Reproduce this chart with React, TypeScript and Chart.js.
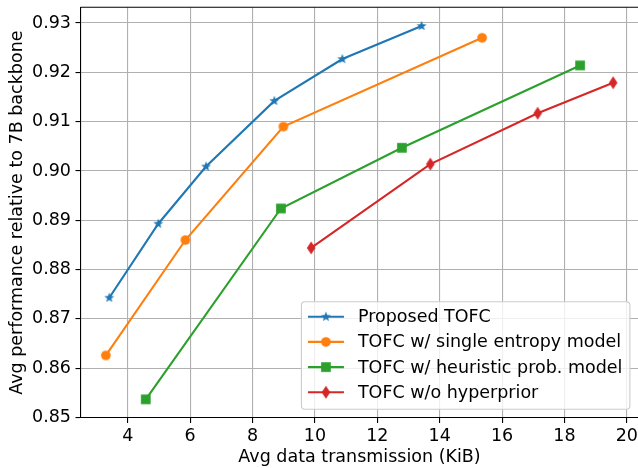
import React, { useEffect, useRef } from "react";
import { Chart, registerables } from "chart.js";

Chart.register(...registerables);

const FONT_FAMILY = "'DejaVu Sans', sans-serif";
const FONT_SIZE = 17.5;

// Series: average data transmission (KiB) vs. relative performance
const proposedX = [3.41, 4.98, 6.51, 8.7, 10.88, 13.42];
const proposedY = [0.8743, 0.8893, 0.9009, 0.9142, 0.9227, 0.9294];

const singleEntropyX = [3.3, 5.85, 8.99, 15.36];
const singleEntropyY = [0.8626, 0.886, 0.909, 0.927];

const heuristicX = [4.58, 8.91, 12.79, 18.5];
const heuristicY = [0.8537, 0.8924, 0.9047, 0.9214];

const noHyperpriorX = [9.88, 13.7, 17.14, 19.56];
const noHyperpriorY = [0.8844, 0.9014, 0.9117, 0.9179];

const seriesLabels = [
  "Proposed TOFC",
  "TOFC w/ single entropy model",
  "TOFC w/ heuristic prob. model",
  "TOFC w/o hyperprior",
];
const seriesColors = ["#1f77b4", "#ff7f0e", "#2ca02c", "#d62728"];
const seriesMarkers = ["star", "circle", "square", "thinDiamond"];

const xTicks = [4, 6, 8, 10, 12, 14, 16, 18, 20];
const yTicks = [0.85, 0.86, 0.87, 0.88, 0.89, 0.9, 0.91, 0.92, 0.93];

const xTitle = "Avg data transmission (KiB)";
const yTitle = "Avg performance relative to 7B backbone";

// 5% margin around the data, like matplotlib's autoscale
function paddedRange(values: number[]): [number, number] {
  const lo = Math.min(...values);
  const hi = Math.max(...values);
  const m = (hi - lo) * 0.05;
  return [lo - m, hi + m];
}

function makeMarker(kind: string, color: string): HTMLCanvasElement {
  const c = document.createElement("canvas");
  c.width = 18;
  c.height = 18;
  const g = c.getContext("2d")!;
  g.fillStyle = color;
  g.translate(9, 9);
  g.beginPath();
  if (kind === "circle") {
    g.arc(0, 0, 4.85, 0, Math.PI * 2);
  } else if (kind === "square") {
    g.rect(-4.85, -4.85, 9.7, 9.7);
  } else if (kind === "thinDiamond") {
    g.moveTo(0, -6.6);
    g.lineTo(4.25, 0);
    g.lineTo(0, 6.6);
    g.lineTo(-4.25, 0);
    g.closePath();
  } else {
    for (let i = 0; i < 10; i++) {
      const r = i % 2 === 0 ? 5.2 : 2.2;
      const a = -Math.PI / 2 + (i * Math.PI) / 5;
      const px = r * Math.cos(a);
      const py = r * Math.sin(a);
      if (i === 0) g.moveTo(px, py);
      else g.lineTo(px, py);
    }
    g.closePath();
  }
  g.fill();
  return c;
}

// Top spine (left and bottom come from the axes' borders)
const framePlugin = {
  id: "axesFrame",
  afterDatasetsDraw(chart: any) {
    const { ctx, chartArea } = chart;
    ctx.save();
    ctx.strokeStyle = "#000";
    ctx.lineWidth = 1.1;
    ctx.beginPath();
    ctx.moveTo(chartArea.left, chartArea.top);
    ctx.lineTo(chartArea.right + 2, chartArea.top);
    ctx.stroke();
    ctx.restore();
  },
};

const legendPlugin = {
  id: "boxedLegend",
  afterDraw(chart: any) {
    const { ctx, chartArea } = chart;
    const datasets = chart.data.datasets;
    ctx.save();
    ctx.font = `${FONT_SIZE}px ${FONT_FAMILY}`;
    const pad = 6.5;
    const handle = 36;
    const gap = 14;
    const rowH = 25.2;
    const widths = datasets.map((d: any) => ctx.measureText(d.label).width);
    const w = pad + handle + gap + Math.max(...widths) + 7.5;
    const h = 107.6;
    const right = chartArea.right - 8.6;
    const bottom = chartArea.bottom - 8.7;
    const left = right - w;
    const top = bottom - h;

    const r = 3.5;
    ctx.beginPath();
    ctx.moveTo(left + r, top);
    ctx.lineTo(right - r, top);
    ctx.arcTo(right, top, right, top + r, r);
    ctx.lineTo(right, bottom - r);
    ctx.arcTo(right, bottom, right - r, bottom, r);
    ctx.lineTo(left + r, bottom);
    ctx.arcTo(left, bottom, left, bottom - r, r);
    ctx.lineTo(left, top + r);
    ctx.arcTo(left, top, left + r, top, r);
    ctx.closePath();
    ctx.fillStyle = "rgba(255,255,255,0.8)";
    ctx.fill();
    ctx.strokeStyle = "#cccccc";
    ctx.lineWidth = 1.1;
    ctx.stroke();

    datasets.forEach((d: any, i: number) => {
      const y = top + 15 + i * rowH;
      const x0 = left + pad;
      ctx.beginPath();
      ctx.moveTo(x0, y);
      ctx.lineTo(x0 + handle, y);
      ctx.strokeStyle = d.borderColor;
      ctx.lineWidth = 2.1;
      ctx.stroke();
      const img = d.pointStyle as HTMLCanvasElement;
      ctx.drawImage(img, x0 + handle / 2 - img.width / 2, y - img.height / 2);
      ctx.fillStyle = "#000";
      ctx.textBaseline = "middle";
      ctx.textAlign = "left";
      ctx.fillText(d.label, x0 + handle + gap, y + 1);
    });
    ctx.restore();
  },
};

export default function App() {
  const ref = useRef<HTMLCanvasElement | null>(null);

  useEffect(() => {
    if (!ref.current) return;
    const xs = [proposedX, singleEntropyX, heuristicX, noHyperpriorX];
    const ys = [proposedY, singleEntropyY, heuristicY, noHyperpriorY];
    const [xMin, xMax] = paddedRange(xs.flat());
    const [yMin, yMax] = paddedRange(ys.flat());

    const datasets = xs.map((xArr, i) => ({
      label: seriesLabels[i],
      data: xArr.map((x, j) => ({ x, y: ys[i][j] })),
      borderColor: seriesColors[i],
      backgroundColor: seriesColors[i],
      borderWidth: 2.1,
      pointStyle: makeMarker(seriesMarkers[i], seriesColors[i]),
      pointRadius: 5,
      tension: 0,
      fill: false,
      order: 4 - i,
    }));

    const tickFont = { family: FONT_FAMILY, size: FONT_SIZE, lineHeight: 1.2 };

    const chart = new Chart(ref.current, {
      type: "line",
      data: { datasets },
      options: {
        animation: false,
        responsive: false,
        devicePixelRatio: 1,
        layout: { padding: { left: 0, top: 7.3, right: 21.5, bottom: 0 } },
        plugins: { legend: { display: false }, tooltip: { enabled: false } },
        scales: {
          x: {
            type: "linear",
            min: xMin,
            max: xMax,
            afterBuildTicks: (s: any) => {
              s.ticks = xTicks.map((value) => ({ value }));
            },
            afterFit: (s: any) => {
              s.height = 50;
              s.paddingLeft = 0;
              s.paddingRight = 0;
            },
            grid: {
              color: "#b0b0b0",
              lineWidth: 1.1,
              tickColor: "#000",
              tickLength: 5,
              tickWidth: 1.1,
            },
            border: { color: "#000", width: 1.1 },
            ticks: {
              color: "#000",
              font: tickFont,
              padding: 3,
              maxRotation: 0,
              autoSkip: false,
              callback: (v: any) => String(v),
            },
            title: {
              display: true,
              text: xTitle,
              color: "#000",
              font: tickFont,
              padding: { top: 0, bottom: 0 },
            },
          },
          y: {
            type: "linear",
            min: yMin,
            max: yMax,
            afterBuildTicks: (s: any) => {
              s.ticks = yTicks.map((value) => ({ value }));
            },
            afterFit: (s: any) => {
              s.width = 80.5;
              s.paddingTop = 0;
              s.paddingBottom = 0;
            },
            grid: {
              color: "#b0b0b0",
              lineWidth: 1.1,
              tickColor: "#000",
              tickLength: 5,
              tickWidth: 1.1,
            },
            border: { color: "#000", width: 1.1 },
            ticks: {
              color: "#000",
              font: tickFont,
              padding: 4.5,
              autoSkip: false,
              callback: (v: any) => Number(v).toFixed(2),
            },
            title: {
              display: true,
              text: yTitle,
              color: "#000",
              font: tickFont,
              padding: { top: 6.5, bottom: 0 },
            },
          },
        },
      } as any,
      plugins: [framePlugin, legendPlugin],
    });

    return () => chart.destroy();
  }, []);

  return (
    <div
      style={{
        position: "fixed",
        left: 0,
        top: 0,
        width: 638,
        height: 468,
        overflow: "hidden",
        background: "#fff",
      }}
    >
      <canvas
        ref={ref}
        width={660}
        height={468}
        style={{ display: "block", width: 660, height: 468 }}
      />
    </div>
  );
}
